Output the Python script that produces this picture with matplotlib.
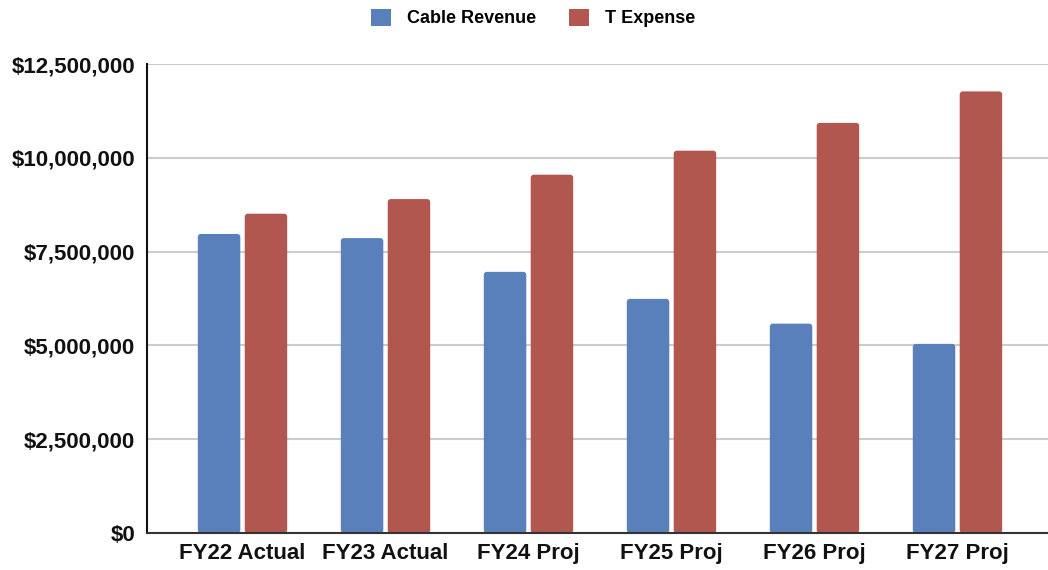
import numpy as np
import matplotlib
matplotlib.use("Agg")
import matplotlib.pyplot as plt
from matplotlib.patches import FancyBboxPatch
from matplotlib.ticker import FuncFormatter

categories = ["FY22 Actual", "FY23 Actual", "FY24 Proj", "FY25 Proj", "FY26 Proj", "FY27 Proj"]
cable_revenue = [7970000, 7860000, 6960000, 6240000, 5580000, 5040000]
t_expense = [8510000, 8900000, 9550000, 10190000, 10930000, 11770000]
series_names = ["Cable Revenue", "T Expense"]
colors = ["#5a80bb", "#b25750"]

plt.rcParams["font.family"] = ["Liberation Sans", "DejaVu Sans"]

fig = plt.figure(figsize=(10.48, 5.70), dpi=100)
ax = fig.add_axes([147 / 1048, 1 - 533 / 570, (1048 - 147) / 1048, (533 - 64) / 570])

x = np.arange(len(categories))
w = 0.297
off = 0.164
ax.set_xlim(-0.668, 5.633)
ax.set_ylim(0, 12500000)

# bars with slightly rounded corners, like the spreadsheet chart
px_x = (5.633 + 0.668) / 901
px_y = 12500000 / 469
for vals, shift, col, name in [(cable_revenue, -off, colors[0], series_names[0]),
                               (t_expense, off, colors[1], series_names[1])]:
    bars = ax.bar(x + shift, vals, w, color=col, label=name, zorder=3)
    for b in bars:
        b.set_visible(False)
        p = FancyBboxPatch((b.get_x(), 0), b.get_width(), b.get_height(),
                           boxstyle="round,pad=0,rounding_size=%f" % (3 * px_x),
                           mutation_aspect=px_y / px_x, facecolor=col,
                           edgecolor="none", zorder=3)
        ax.add_patch(p)

ax.set_yticks(np.arange(0, 12500001, 2500000))
ax.yaxis.set_major_formatter(FuncFormatter(lambda v, p: "${:,.0f}".format(v)))
ax.set_xticks(x)
ax.set_xticklabels(categories)

for lab in ax.get_xticklabels() + ax.get_yticklabels():
    lab.set_fontsize(16)
    lab.set_fontweight("bold")
    lab.set_color("#111111")

ax.tick_params(axis="both", length=0)
ax.tick_params(axis="y", pad=8.5)
ax.tick_params(axis="x", pad=7)
ax.grid(axis="y", color="#cccccc", linewidth=1.5, zorder=0)
ax.set_axisbelow(True)
for s in ["top", "right"]:
    ax.spines[s].set_visible(False)
ax.spines["left"].set_color("#111111")
ax.spines["left"].set_linewidth(1.5)
ax.spines["bottom"].set_color("#333333")
ax.spines["bottom"].set_linewidth(1.5)
ax.spines["bottom"].set_zorder(4)

from matplotlib.patches import Patch
handles = [Patch(facecolor=c, edgecolor="none") for c in colors]
fig.legend(handles, series_names, loc="center", bbox_to_anchor=(533 / 1048, 1 - 18 / 570),
           ncol=2, frameon=False, prop={"weight": "bold", "size": 13},
           handlelength=1.1, handleheight=1.1, columnspacing=1.8, handletextpad=0.9,
           borderpad=0, borderaxespad=0)

fig.savefig("out.png", dpi=100, facecolor="white")
